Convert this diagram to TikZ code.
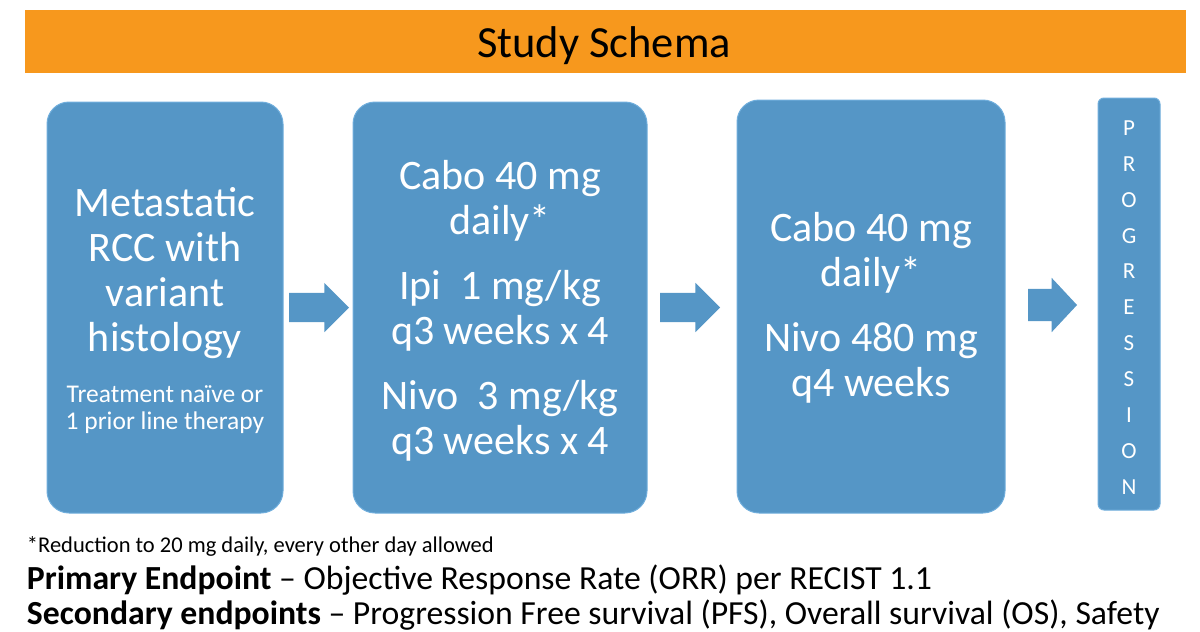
\documentclass[tikz,border=0pt]{standalone}
\usepackage{fontspec}
\setmainfont{Carlito}
\usetikzlibrary{shapes.arrows}
\definecolor{schemaorange}{RGB}{247,152,29}
\definecolor{stepblue}{RGB}{85,150,198}
\definecolor{stepedge}{RGB}{112,174,220}
\newcommand\bigline{\fontsize{42}{45}\selectfont}
\newcommand\smallline{\fontsize{25.5}{28}\selectfont}
\begin{document}
\begin{tikzpicture}
  [x=1pt,y=-1pt,
   every node/.style={inner sep=0pt,outer sep=0pt},
   stepbox/.style={rectangle,rounded corners=22pt,fill=stepblue,draw=stepedge,line width=1pt},
   steptext/.style={text=white,align=center,font=\bigline},
   blockarrow/.style={single arrow,anchor=tail,fill=stepblue,draw=none,inner ysep=14.5pt,
     single arrow head extend=10pt,minimum height=60pt},
   letter/.style={text=white,font=\fontsize{23}{26}\selectfont},
   note/.style={anchor=base west,font=\fontsize{33.7}{38}\selectfont}]
  \useasboundingbox (0,0) rectangle (1200,632);

  \node (titlebar) at (605.5,41.5) [fill=schemaorange,minimum width=1161pt,minimum height=63pt] {};
  \node (title) at (604,57) [anchor=base,font=\fontsize{44.5}{48}\selectfont] {Study Schema};

  % the three treatment steps
  \node (patients) at (165,307.5) [stepbox,minimum width=236pt,minimum height=411pt] {};
  \node (induction) at (500,307.5) [stepbox,minimum width=294pt,minimum height=411pt] {};
  \node (maintenance) at (871,306.5) [stepbox,minimum width=268pt,minimum height=413pt] {};
  \node (progression) at (1129,304) [stepbox,rounded corners=6pt,minimum width=62pt,minimum height=412pt] {};

  \node (patientstext) at ([yshift=-3pt]patients.center) [steptext]
    {Metastatic\\RCC with\\variant\\histology\\[6.6pt]
     \smallline Treatment naïve or\\[-18pt]\smallline 1 prior line therapy};
  \node (inductiontext) at ([yshift=-3pt]induction.center) [steptext]
    {Cabo 40 mg\\daily*\\[20pt]Ipi\ \ 1 mg/kg\\q3 weeks x 4\\[20pt]Nivo\ \ 3 mg/kg\\q3 weeks x 4};
  \node (maintenancetext) at ([yshift=-1pt]maintenance.center) [steptext]
    {Cabo 40 mg\\daily*\\[20pt]Nivo 480 mg\\q4 weeks};

  \foreach \ch [count=\i] in {P,R,O,G,R,E,S,S,I,O,N}
    \node (p\i) at (1129,128+35.9*\i-35.9) [letter] {\ch};

  \node (arr1) at (289,307.5) [blockarrow] {};
  \node (arr2) at (660,307.5) [blockarrow] {};
  \node (arr3) at (1028,305) [blockarrow,minimum height=49pt,inner ysep=16pt,
    single arrow head extend=11pt,single arrow tip angle=94] {};

  \node (footnote) at (27,552) [note,font=\fontsize{22.5}{26}\selectfont]
    {*Reduction to 20 mg daily, every other day allowed};
  \node (primary) at (27,589.5) [note]
    {\textbf{Primary Endpoint} -- Objective Response Rate (ORR) per RECIST 1.1};
  \node (secondary) at (27,624) [note]
    {\textbf{Secondary endpoints} -- Progression Free survival (PFS), Overall survival (OS), Safety};
\end{tikzpicture}
\end{document}
